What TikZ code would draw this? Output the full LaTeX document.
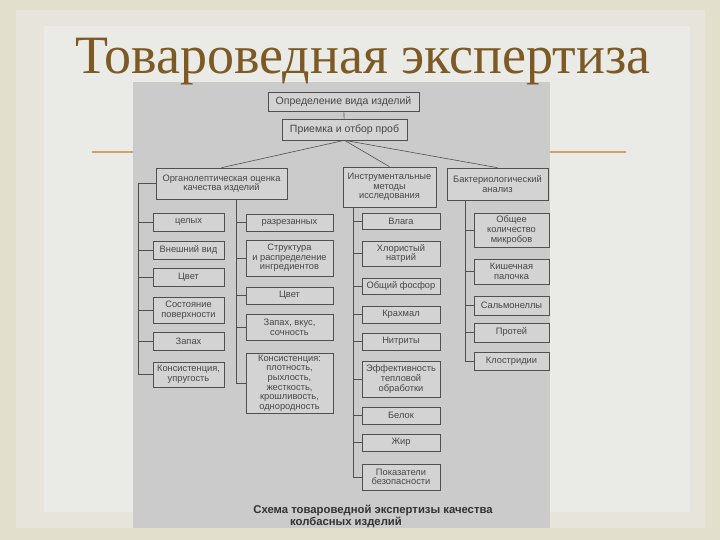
\documentclass[tikz,border=0pt]{standalone}
\usepackage{fontspec}
\setmainfont{Liberation Serif}
\newfontfamily\boxfont{Liberation Sans}
\usetikzlibrary{positioning, calc}
\definecolor{SlideBeige}{RGB}{227,223,205}
\definecolor{SlideMid}{RGB}{231,229,219}
\definecolor{SlideLight}{RGB}{234,234,231}
\definecolor{ScanGray}{RGB}{203,203,203}
\definecolor{BoxLine}{RGB}{80,80,80}
\definecolor{BoxText}{RGB}{70,70,70}
\definecolor{CapText}{RGB}{50,50,50}
\definecolor{TitleBrown}{RGB}{125,89,36}
\definecolor{RuleOrange}{RGB}{212,160,104}

\begin{document}
\begin{tikzpicture}[x=1pt, y=-1pt,
	blk/.style={rectangle, draw=BoxLine, line width=0.6pt, fill=ScanGray!85!white, text=BoxText,
		font=\boxfont\fontsize{9.3}{9.6}\selectfont, align=center, inner sep=0.5pt},
	top/.style={blk, font=\boxfont\fontsize{10.5}{11}\selectfont},
	lc/.style={blk, minimum width=71},
	rc/.style={blk, minimum width=87},
	ic/.style={blk, minimum width=78},
	bc/.style={blk, minimum width=75},
	ln/.style={BoxLine, line width=0.6pt},
	capt/.style={font=\boxfont\bfseries\fontsize{11.3}{12}\selectfont, text=CapText}]

	% фон слайда
	\useasboundingbox (0,0) rectangle (720,540);
	\fill[SlideBeige] (0,0) rectangle (720,540);
	\fill[SlideMid] (16,10) rectangle (705,528);
	\fill[SlideLight] (44,26) rectangle (690,512);
	\draw[RuleOrange, line width=1.2pt] (92,152) -- (626,152);
	\fill[ScanGray] (133,82) rectangle (550,528);

	\node[font=\fontsize{54}{54}\selectfont, text=TitleBrown, anchor=base west] (title) at (72,74) {Товароведная экспертиза};

	% верхние уровни
	\node[top, minimum width=151, minimum height=19] (opr) at (343.5,101.5) {Определение вида изделий};
	\node[top, minimum width=125, minimum height=21] (pri) at (344.5,129.5) {Приемка и отбор проб};
	\node[blk, minimum width=131, minimum height=31] (org) at (221.5,183.5) {Органолептическая оценка\\качества изделий};
	\node[blk, minimum width=93, minimum height=40] (ins) at (389.5,187) {Инструментальные\\методы\\исследования};
	\node[blk, minimum width=101, minimum height=32] (bak) at (497.5,184) {Бактериологический\\анализ};

	% органолептика, левый столбец
	\node[lc, minimum height=18] (ce) at (188.5,222) {целых};
	\node[lc, minimum height=18] (vv) at (188.5,250) {Внешний вид};
	\node[lc, minimum height=18] (cv) at (188.5,277) {Цвет};
	\node[lc, minimum height=26] (sp) at (188.5,310) {Состояние\\поверхности};
	\node[lc, minimum height=18] (za) at (188.5,341) {Запах};
	\node[lc, minimum height=25] (ku) at (188.5,374.5) {Консистенция,\\упругость};

	% органолептика, правый столбец
	\node[rc, minimum height=17] (ra) at (289.5,222.5) {разрезанных};
	\node[rc, minimum height=36] (st) at (289.5,258) {Структура\\и распределение\\ингредиентов};
	\node[rc, minimum height=17] (cr) at (289.5,295.5) {Цвет};
	\node[rc, minimum height=26] (zv) at (289.5,327) {Запах, вкус,\\сочность};
	\node[rc, minimum height=60] (kn) at (289.5,383) {Консистенция:\\плотность,\\рыхлость,\\жесткость,\\крошливость,\\однородность};

	% инструментальные методы
	\node[ic, minimum height=16] (vl) at (401,221) {Влага};
	\node[ic, minimum height=25] (xn) at (401,253.5) {Хлористый\\натрий};
	\node[ic, minimum height=16] (of) at (401,286) {Общий фосфор};
	\node[ic, minimum height=17] (kr) at (401,314.5) {Крахмал};
	\node[ic, minimum height=17] (ni) at (401,341.5) {Нитриты};
	\node[ic, minimum height=36] (et) at (401,379) {Эффективность\\тепловой\\обработки};
	\node[ic, minimum height=17] (be) at (401,415.5) {Белок};
	\node[ic, minimum height=17] (zh) at (401,442.5) {Жир};
	\node[ic, minimum height=26] (pb) at (401,477) {Показатели\\безопасности};

	% бактериологический анализ
	\node[bc, minimum height=34] (ok) at (511.5,230) {Общее\\количество\\микробов};
	\node[bc, minimum height=25] (kp) at (511.5,271.5) {Кишечная\\палочка};
	\node[bc, minimum height=19] (sa) at (511.5,305.5) {Сальмонеллы};
	\node[bc, minimum height=19] (pr) at (511.5,332.5) {Протей};
	\node[bc, minimum height=18] (kl) at (511.5,361) {Клостридии};

	\node[capt] (cap1) at (373,510.5) {Схема товароведной экспертизы качества};
	\node[capt] (cap2) at (346,522) {колбасных изделий};

	% оси ветвей
	\coordinate (lx) at (138,0);
	\coordinate (rx) at (236,0);
	\coordinate (ix) at (353,0);
	\coordinate (bx) at (465,0);

	\draw[ln] (opr) -- (pri);
	\foreach \n in {org,ins,bak}{\draw[ln] (pri.south) -- (\n.north);}
	\draw[ln] (org.west) -- (org.west -| lx) |- (ku.west);
	\foreach \n in {ce,vv,cv,sp,za}{\draw[ln] (\n.west -| lx) -- (\n.west);}
	\draw[ln] (org.south -| rx) |- (kn.west);
	\foreach \n in {ra,st,cr,zv}{\draw[ln] (\n.west -| rx) -- (\n.west);}
	\draw[ln] (ins.south -| ix) |- (pb.west);
	\foreach \n in {vl,xn,of,kr,ni,et,be,zh}{\draw[ln] (\n.west -| ix) -- (\n.west);}
	\draw[ln] (bak.south -| bx) |- (kl.west);
	\foreach \n in {ok,kp,sa,pr}{\draw[ln] (\n.west -| bx) -- (\n.west);}
\end{tikzpicture}
\end{document}
